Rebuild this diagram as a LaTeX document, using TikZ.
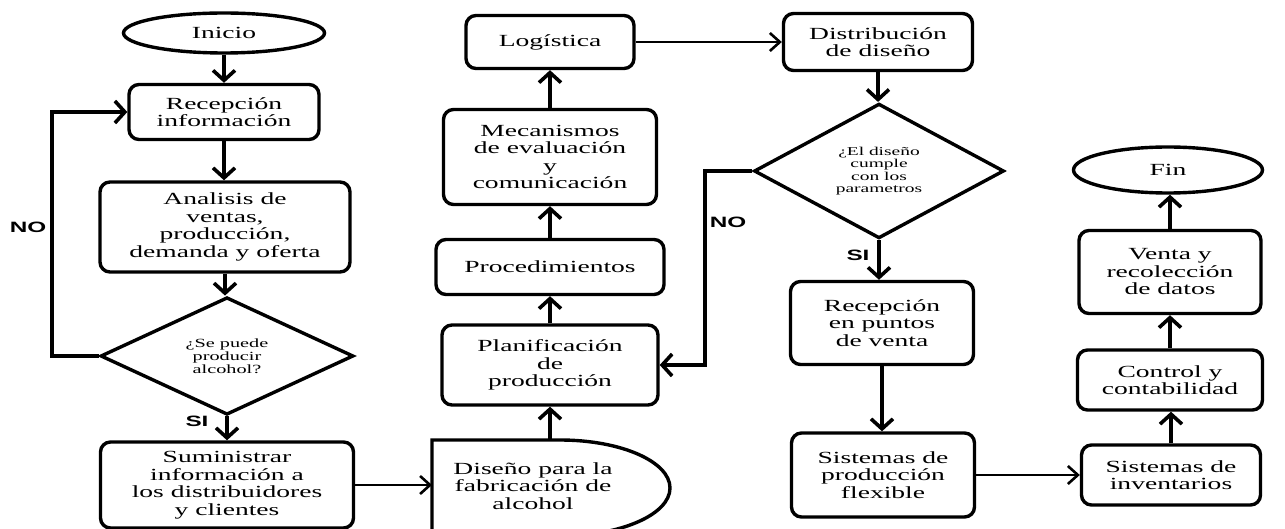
\documentclass[tikz,border=0pt]{standalone}
\usepackage{fontspec}
\newfontfamily\boxfam[FakeStretch=1.62]{Liberation Serif}
\newfontfamily\lblfam[FakeStretch=1.62]{Liberation Sans}
\usetikzlibrary{shapes.geometric,arrows.meta}
\tikzset{
  boxfont/.style={font=\boxfam\fontsize{17}{17.5}\selectfont},
  box/.style={draw, line width=3.4, rounded corners=10, align=center, inner sep=0, boxfont},
  term/.style={draw, ellipse, line width=3.4, inner sep=0, boxfont},
  dec/.style={draw, diamond, line width=3.4, inner sep=0, align=center, font=\boxfam\fontsize{12.5}{13}\selectfont},
  arr/.style={line width=3.6, -{Straight Barb[length=10, width=22]}},
  harr/.style={line width=2.6, -{Straight Barb[length=10, width=18]}},
  lbl/.style={font=\lblfam\bfseries\fontsize{15}{15}\selectfont, inner sep=0},
}
\begin{document}
\begin{tikzpicture}[x=1pt,y=-1pt]
\useasboundingbox (0,0) rectangle (1285,529);
% column 1
\node[term, minimum width=201, minimum height=40] (ini) at (224,33) {Inicio};
\node[box, minimum width=190, minimum height=55] (rec) at (224,112) {Recepción\\información};
\node[box, minimum width=250, minimum height=90] (ana) at (225,227) {Analisis de\\ventas,\\producción,\\demanda y oferta};
\node[dec, minimum width=253, minimum height=97] (d1) at (227,356) {¿Se puede\\producir\\alcohol?};
\node[box, minimum width=253, minimum height=86] (sum) at (227,485) {Suministrar\\información a\\los distribuidores\\y clientes};
% delay shape
\draw[line width=3.4] (432,536) -- (432,440) -- (560,440) arc[start angle=-90, end angle=90, x radius=110, y radius=48] -- cycle;
\node[boxfont, align=center, inner sep=0] (dis) at (533,486) {Diseño para la\\fabricación de\\alcohol};
\coordinate (disL) at (432,486);
\coordinate (disT) at (550,440);
% column 2
\node[box, minimum width=216, minimum height=80] (plan) at (550,365) {Planificación\\de\\producción};
\node[box, minimum width=228, minimum height=55] (proc) at (550,267) {Procedimientos};
\node[box, minimum width=213, minimum height=95] (mec) at (550,157) {Mecanismos\\de evaluación\\y\\comunicación};
\node[box, minimum width=168, minimum height=53] (log) at (550,42) {Logística};
% column 3
\node[box, minimum width=189, minimum height=57] (dist) at (878,42) {Distribución\\de diseño};
\node[dec, minimum width=250, minimum height=125, font=\boxfam\fontsize{12}{12.5}\selectfont] (d2) at (879,171) {¿El diseño\\cumple\\con los\\parametros};
\node[box, minimum width=183, minimum height=83] (rpv) at (882,323) {Recepción\\en puntos\\de venta};
\node[box, minimum width=183, minimum height=84] (sp) at (883,475) {Sistemas de\\producción\\flexible};
% column 4
\node[box, minimum width=179, minimum height=60] (inv) at (1171,475) {Sistemas de\\inventarios};
\node[box, minimum width=185, minimum height=60] (ctl) at (1170,380) {Control y\\contabilidad};
\node[box, minimum width=182, minimum height=83] (vta) at (1170,272) {Venta y\\recolección\\de datos};
\node[term, minimum width=189, minimum height=46] (fin) at (1168,170) {Fin};
% coordinates for loops
\coordinate (noA) at (52,0);
\coordinate (noB) at (705,0);
% labels
\node[lbl] (no1) at (28,227) {NO};
\node[lbl] (si1) at (197,421) {SI};
\node[lbl] (no2) at (728,222) {NO};
\node[lbl] (si2) at (858,255) {SI};
% connectors
\draw[arr] (ini.south) -- (ini.south |- rec.north);
\draw[arr] (rec.south) -- (rec.south |- ana.north);
\draw[arr] (ana.south) -- (ana.south |- d1.north);
\draw[arr] (d1.south) -- (d1.south |- sum.north);
\draw[arr] (d1.west) -- (d1.west -| noA) |- (rec.west);
\draw[harr] (sum.east) -- (sum.east -| disL);
\draw[arr] (disT) -- (disT |- plan.south);
\draw[arr] (plan.north) -- (plan.north |- proc.south);
\draw[arr] (proc.north) -- (proc.north |- mec.south);
\draw[arr] (mec.north) -- (mec.north |- log.south);
\draw[harr] (log.east) -- (dist.west);
\draw[arr] (dist.south) -- (dist.south |- d2.north);
\draw[arr] (d2.west) -- (d2.west -| noB) |- (plan.east);
\draw[arr] (d2.south) -- (d2.south |- rpv.north);
\draw[arr] (rpv.south) -- (rpv.south |- sp.north);
\draw[harr] (sp.east) -- (inv.west);
\draw[arr] (inv.north) -- (inv.north |- ctl.south);
\draw[arr] (ctl.north) -- (ctl.north |- vta.south);
\draw[arr] (vta.north) -- (vta.north |- fin.south);
\end{tikzpicture}
\end{document}
